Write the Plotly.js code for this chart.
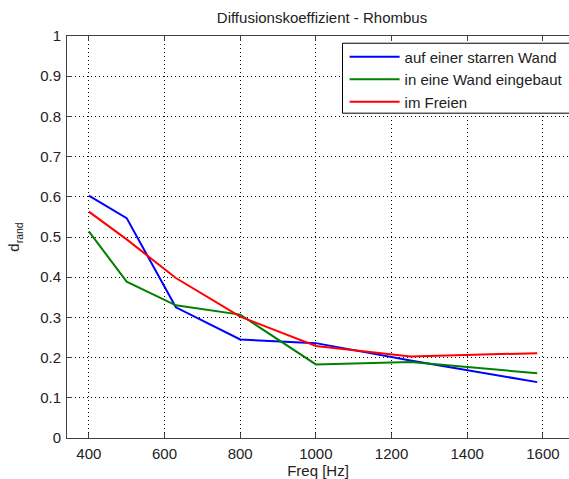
<!DOCTYPE html>
<html>
<head>
<meta charset="utf-8">
<script src="https://cdn.plot.ly/plotly-3.0.1.min.js"></script>
<style>html,body{margin:0;padding:0;background:#fff;}#chart{width:569px;height:479px;}</style>
</head>
<body>
<div id="chart"></div>
<script>
var freq = [400, 500, 630, 800, 1000, 1250, 1585];
var starreWand = [0.603, 0.547, 0.325, 0.245, 0.236, 0.193, 0.139];
var eingebaut = [0.514, 0.389, 0.330, 0.307, 0.183, 0.189, 0.161];
var imFreien = [0.563, 0.494, 0.398, 0.302, 0.229, 0.203, 0.211];
var seriesNames = ['auf einer starren Wand', 'in eine Wand eingebaut', 'im Freien'];
var xTicks = [400, 600, 800, 1000, 1200, 1400, 1600];
var yTicks = [0, 0.1, 0.2, 0.3, 0.4, 0.5, 0.6, 0.7, 0.8, 0.9, 1];

var font = 'Arial, "Liberation Sans", sans-serif';
var fs = 15;
var traces = [
  {x: freq, y: starreWand, name: seriesNames[0], mode: 'lines', line: {color: '#0000ff', width: 2}},
  {x: freq, y: eingebaut, name: seriesNames[1], mode: 'lines', line: {color: '#008000', width: 2}},
  {x: freq, y: imFreien, name: seriesNames[2], mode: 'lines', line: {color: '#ff0000', width: 2}}
];
var axisCommon = {
  showline: true, linecolor: '#404040', linewidth: 1,
  ticks: 'inside', ticklen: 5, tickcolor: '#404040', tickwidth: 1,
  showgrid: true, gridcolor: '#000000', gridwidth: 1, griddash: '1px,3px',
  zeroline: false, tickfont: {family: font, size: fs, color: '#222'}
};
var layout = {
  width: 569, height: 479,
  margin: {l: 67, r: 0, t: 36, b: 41},
  paper_bgcolor: '#fff', plot_bgcolor: '#fff',
  font: {family: font, size: fs, color: '#222'},
  title: {text: 'Diffusionskoeffizient - Rhombus', font: {family: font, size: fs, color: '#222'},
          x: 0.508, xref: 'paper', xanchor: 'center', y: 0.962, yref: 'container', yanchor: 'middle'},
  xaxis: Object.assign({}, axisCommon, {
    range: [342.3, 1669], tickvals: xTicks, ticktext: xTicks.map(String),
    mirror: 'ticks', ticklabelstandoff: 2,
    title: {text: 'Freq [Hz]', font: {family: font, size: fs, color: '#222'}, standoff: 2}
  }),
  yaxis: Object.assign({}, axisCommon, {
    range: [0, 1], tickvals: yTicks, ticktext: yTicks.map(String),
    mirror: false, ticklabelstandoff: 2,
    title: {text: 'd<sub>rand</sub>', font: {family: font, size: fs, color: '#222'}, standoff: 16}
  }),
  showlegend: true,
  legend: {
    x: 0.553, y: 0.989, xanchor: 'left', yanchor: 'top',
    bgcolor: 'rgba(0,0,0,0)', borderwidth: 0,
    font: {family: font, size: fs, color: '#222'},
    itemwidth: 50
  },
  shapes: [{
    type: 'rect', xref: 'paper', yref: 'paper', layer: 'above',
    x0: 0.5488, x1: 1.3, y0: 0.808, y1: 0.982,
    line: {color: '#000', width: 1}, fillcolor: '#fff'
  }]
};
Plotly.newPlot('chart', traces, layout, {displayModeBar: false, staticPlot: true});
</script>
</body>
</html>
